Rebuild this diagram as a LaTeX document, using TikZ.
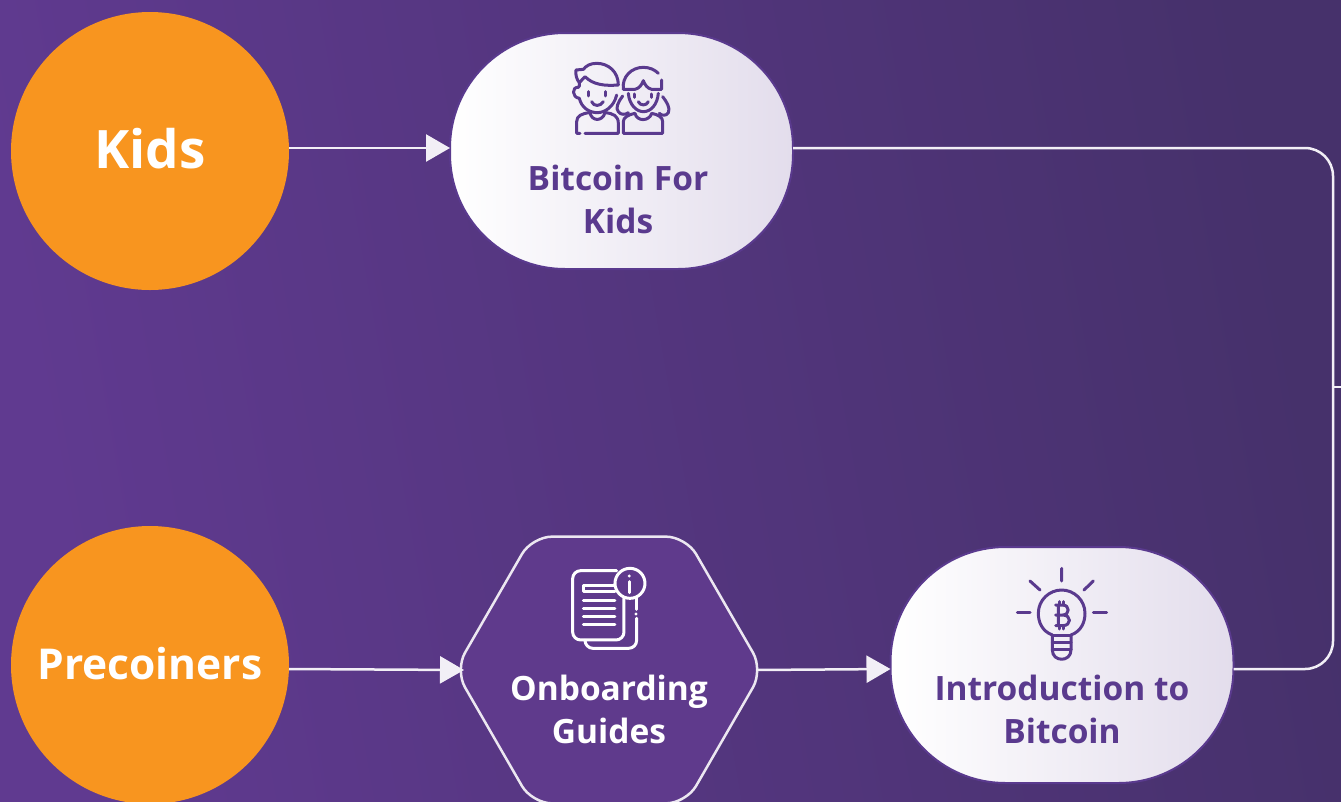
\documentclass[tikz,border=0pt]{standalone}
\usepackage{fontspec}
\setmainfont{Open Sans}
\usetikzlibrary{arrows.meta,shapes.geometric}
\definecolor{BgLeft}{HTML}{603A90}
\definecolor{BgRight}{HTML}{46316B}
\definecolor{CircleOrange}{HTML}{F8951F}
\definecolor{PillRight}{HTML}{E3DDEC}
\definecolor{TextPurple}{HTML}{5A3A8E}
\definecolor{HexFill}{HTML}{5F3A8C}
\tikzset{
  audience/.style={circle,fill=CircleOrange,minimum size=278pt,inner sep=0pt,outer sep=0pt,
    text=white,text depth=4pt,font=\fontsize{42.5}{48}\selectfont\bfseries},
  pill/.style={rectangle,rounded corners=115pt,left color=white,right color=PillRight,
    draw=TextPurple,line width=2pt,minimum width=343pt,minimum height=236pt,outer sep=0pt},
  hexbox/.style={regular polygon,regular polygon sides=6,minimum size=308pt,inner sep=0pt,outer sep=0pt,
    rounded corners=20pt,fill=HexFill,draw=white!88!HexFill,line width=2.5pt},
  pilltext/.style={align=center,text=TextPurple,font=\bfseries\fontsize{33.5}{43}\selectfont},
  hextext/.style={align=center,text=white,font=\bfseries\fontsize{33.5}{43}\selectfont},
  link/.style={draw=white!92!HexFill,line width=2.5pt},
  flow/.style={link,-{Triangle[length=24pt,width=27pt]}},
  iconline/.style={line width=3pt,line cap=round,line join=round}
}
\begin{document}
\begin{tikzpicture}[x=1pt,y=-1pt]
  \clip (0,0) rectangle (1341,801);
  \path[left color=BgLeft,right color=BgRight,shading angle=100] (0,0) rectangle (1341,801);
  % audiences
  \node[audience,text depth=6pt,font=\fontsize{53}{60}\selectfont\bfseries] (kids) at (150,151) {Kids};
  \node[audience] (precoiners) at (150,665) {Precoiners};
  % content boxes
  \node[pill] (kidsbox) at (621.5,151) {};
  \node[hexbox] (onboard) at (609,670) {};
  \node[pill] (intro) at (1062,665) {};
  \node[pilltext] (kidslabel) at (618,199) {Bitcoin For\\Kids};
  \node[hextext] (onboardlabel) at (609,709) {Onboarding\\Guides};
  \node[pilltext] (introlabel) at (1062,709) {Introduction to\\Bitcoin};
  % connectors
  \coordinate (railjoin) at (1333,387);
  \coordinate (pageedge) at (1341,387);
  \coordinate (railtop) at (1333,148);
  \coordinate (railbottom) at (1333,669);
  \draw[flow] ([yshift=3pt]kids.east) -- ([yshift=3pt]kidsbox.west);
  \draw[flow] ([yshift=-4pt]precoiners.east) -- ([xshift=9pt,yshift=0pt]onboard.west);
  \draw[flow] ([xshift=-7pt]onboard.east) -- ([yshift=-4pt]intro.west);
  \draw[link,rounded corners=28pt] ([yshift=3pt]kidsbox.east) -- (railtop) -- (railbottom) -- ([yshift=-4pt]intro.east);
  \draw[link,line width=1.5pt] (railjoin) -- (pageedge);
  % two kids
  \begin{scope}[shift={(540,40)},x=0.3333pt,y=-0.3333pt,iconline,draw=TextPurple]
    \draw (235,135) .. controls (235,95) and (205,70) .. (170,70) .. controls (150,70) and (138,78) .. (130,88) -- (108,90)
      .. controls (106,105) and (110,118) .. (118,128) -- (135,110) .. controls (160,135) and (195,138) .. (235,135);
    \draw (118,128) .. controls (120,135) and (118,140) .. (115,142) .. controls (95,140) and (95,172) .. (118,175)
      .. controls (125,205) and (150,218) .. (172,218) .. controls (195,218) and (222,200) .. (230,165);
    \draw (145,155) -- (145,168) (195,155) -- (195,168);
    \draw (155,185) .. controls (160,200) and (182,200) .. (190,185);
    \draw (120,280) -- (110,280) -- (110,245) .. controls (110,228) and (125,220) .. (150,218)
      .. controls (155,245) and (188,245) .. (195,218) .. controls (220,220) and (235,228) .. (235,250) -- (235,280) -- (135,280);
    \draw (250,148) .. controls (245,110) and (275,82) .. (310,82) .. controls (330,82) and (345,90) .. (355,100);
    \draw (365,120) -- (365,148) -- (335,148) .. controls (322,145) and (315,135) .. (310,122) .. controls (305,135) and (298,145) .. (285,148) -- (250,148);
    \draw (265,160) .. controls (268,195) and (290,215) .. (310,215) .. controls (332,215) and (352,195) .. (355,160);
    \draw (285,162) -- (285,172) (335,162) -- (335,172);
    \draw (295,185) .. controls (300,198) and (320,198) .. (325,185);
    \draw (248,168) .. controls (235,185) and (225,205) .. (235,215) .. controls (242,225) and (255,225) .. (265,218);
    \draw (368,170) .. controls (380,185) and (392,205) .. (385,218) .. controls (380,228) and (365,228) .. (358,220);
    \draw (250,280) -- (250,245) .. controls (250,232) and (265,224) .. (285,220)
      .. controls (290,245) and (328,245) .. (335,220) .. controls (355,224) and (368,232) .. (368,245) -- (368,280) -- cycle;
  \end{scope}
  % document with info mark
  \begin{scope}[shift={(440,530)},x=0.3333pt,y=-0.3333pt,iconline,draw=white]
    \draw[rounded corners=8pt] (435,332) -- (435,355) -- (590,355) -- (590,265);
    \draw (590,205) -- (590,238);
    \fill[white] (588,252) circle (5);
    \draw[rounded corners=8pt] (530,122) -- (398,122) -- (398,330) -- (552,330) -- (552,205);
    \draw (525,165) -- (430,165) -- (430,185) -- (525,185);
    \foreach \liney in {210,235,258,282}
      \draw (430,\liney) -- (525,\liney);
    \draw[fill=HexFill] (570,160) circle (45);
    \fill[white] (568,138) circle (5);
    \draw (568,155) -- (568,188);
  \end{scope}
  % bulb with coin mark
  \begin{scope}[shift={(990,555)},x=0.3333pt,y=-0.3333pt,iconline,draw=TextPurple]
    \draw (215,40) -- (215,78) (120,78) -- (150,105) (310,78) -- (282,105);
    \draw (82,172) -- (120,172) (310,172) -- (350,172);
    \draw (187,240) .. controls (155,228) and (145,200) .. (145,175) .. controls (145,135) and (178,105) .. (215,105)
      .. controls (252,105) and (285,135) .. (285,175) .. controls (285,200) and (275,228) .. (243,240);
    \draw (187,240) -- (187,285) .. controls (187,322) and (243,322) .. (243,285) -- (243,240);
    \draw (187,240) -- (243,240) (187,262) -- (243,262) (187,282) -- (243,282);
    \draw (197,150) -- (218,150) .. controls (240,150) and (240,180) .. (218,180) -- (197,180)
      (218,180) .. controls (245,180) and (245,212) .. (218,212) -- (197,212) (205,150) -- (205,212);
    \draw (207,140) -- (207,150) (219,140) -- (219,150) (207,212) -- (207,222) (219,212) -- (219,222);
  \end{scope}
\end{tikzpicture}
\end{document}
